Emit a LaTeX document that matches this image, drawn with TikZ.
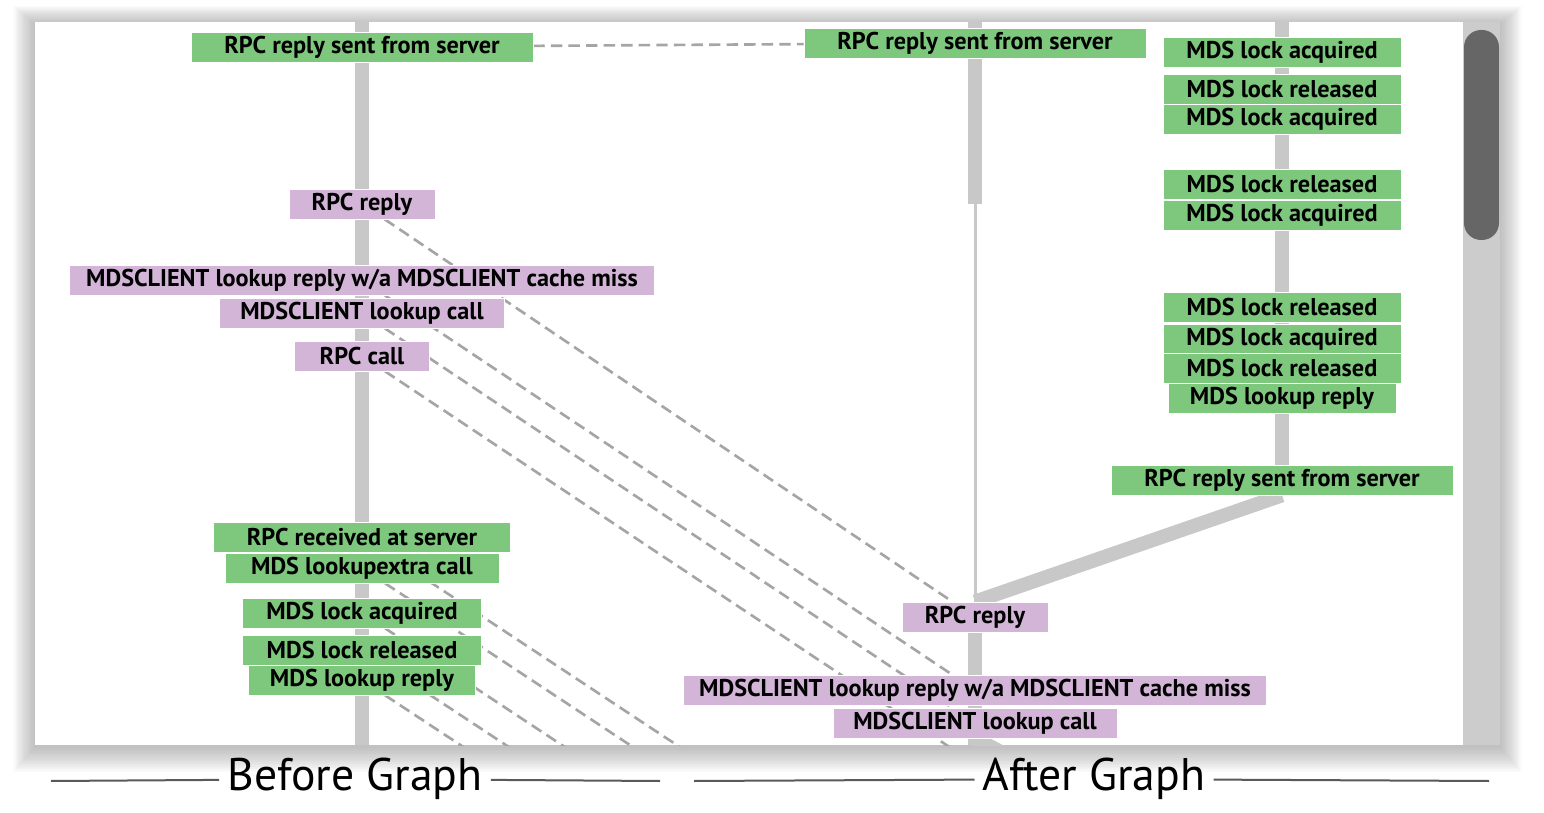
\documentclass[tikz,border=0pt]{standalone}
\usepackage{fontspec}
\setmainfont{PT Sans}
\definecolor{evgreen}{RGB}{126,200,126}
\definecolor{evpurple}{RGB}{211,181,216}
\definecolor{bargray}{RGB}{200,200,200}
\definecolor{dashgray}{RGB}{165,165,165}
\definecolor{trackgray}{RGB}{204,204,204}
\definecolor{thumbgray}{RGB}{102,102,102}
\pgfdeclarelayer{panel}
\pgfdeclarelayer{edges}
\pgfsetlayers{panel,edges,main}

\begin{document}
\begin{tikzpicture}[x=0.02cm, y=-0.02cm]
	\tikzstyle{every node} = [rectangle, align=center, font=\fontsize{13.8}{16}\selectfont\bfseries, draw=white, line width=0.4pt, minimum height=0.6cm, inner ysep=0pt]
	\tikzstyle{srv} = [fill=evgreen]
	\tikzstyle{cli} = [fill=evpurple]
	\tikzstyle{bar} = [bargray, line width=0.28cm]
	\tikzstyle{thinbar} = [bargray, line width=0.06cm]
	\tikzstyle{match} = [dashgray, line width=1.5pt, dash pattern=on 6.5pt off 3.5pt]
	\tikzstyle{caption} = [draw=none, fill=none, font=\fontsize{26}{30}\selectfont, inner xsep=0.16cm]
	\tikzstyle{rule} = [black!65, line width=0.04cm]
	\useasboundingbox (0,0) rectangle (1544,813);

	%Before graph
	\node[srv, minimum width=6.84cm] (b_sent) at (362,47) {RPC reply sent from server};
	\node[cli, minimum width=2.92cm] (b_rpc_reply) at (362,204) {RPC reply};
	\node[cli, minimum width=11.7cm] (b_cache_miss) at (362,280) {MDSCLIENT lookup reply w/a MDSCLIENT cache miss};
	\node[cli, minimum width=5.7cm] (b_lookup_call) at (362,313) {MDSCLIENT lookup call};
	\node[cli, minimum width=2.7cm] (b_rpc_call) at (362,356) {RPC call};
	\node[srv, minimum width=5.94cm] (b_received) at (362,537) {RPC received at server};
	\node[srv, minimum width=5.48cm] (b_lookupextra) at (362,568) {MDS lookupextra call};
	\node[srv, minimum width=4.78cm] (b_lock_acq) at (362,613) {MDS lock acquired};
	\node[srv, minimum width=4.78cm] (b_lock_rel) at (362,650) {MDS lock released};
	\node[srv, minimum width=4.54cm] (b_lookup_reply) at (362,680) {MDS lookup reply};

	%After graph, client side
	\node[srv, minimum width=6.84cm] (a_sent) at (975,43) {RPC reply sent from server};
	\node[cli, minimum width=2.92cm] (a_rpc_reply) at (975,617) {RPC reply};
	\node[cli, minimum width=11.66cm] (a_cache_miss) at (975,690) {MDSCLIENT lookup reply w/a MDSCLIENT cache miss};
	\node[cli, minimum width=5.68cm] (a_lookup_call) at (975,723) {MDSCLIENT lookup call};

	%After graph, server side
	\node[srv, minimum width=4.76cm] (r_acq1) at (1282,52) {MDS lock acquired};
	\node[srv, minimum width=4.76cm] (r_rel1) at (1282,89) {MDS lock released};
	\node[srv, minimum width=4.76cm] (r_acq2) at (1282,119) {MDS lock acquired};
	\node[srv, minimum width=4.76cm] (r_rel2) at (1282,184) {MDS lock released};
	\node[srv, minimum width=4.76cm] (r_acq3) at (1282,215) {MDS lock acquired};
	\node[srv, minimum width=4.76cm] (r_rel3) at (1282,307) {MDS lock released};
	\node[srv, minimum width=4.76cm] (r_acq4) at (1282,339) {MDS lock acquired};
	\node[srv, minimum width=4.76cm] (r_rel4) at (1282,368) {MDS lock released};
	\node[srv, minimum width=4.56cm] (r_lookup_reply) at (1282,398) {MDS lookup reply};
	\node[srv, minimum width=6.84cm] (r_sent) at (1282,480) {RPC reply sent from server};

	%Captions
	\node[caption] (before_lbl) at (355,779) {Before Graph};
	\node[caption] (after_lbl) at (1094,779) {After Graph};
	\coordinate (bl_left) at (51,781);
	\coordinate (bl_right) at (660,781);
	\coordinate (al_left) at (694,781);
	\coordinate (al_right) at (1489,781);
	\draw[rule] (bl_left) -- (before_lbl) (before_lbl) -- (bl_right);
	\draw[rule] (al_left) -- (after_lbl) (after_lbl) -- (al_right);

	%Window with shadow and scrollbar
	\begin{pgfonlayer}{panel}
		\foreach \i in {1,...,18}
			\fill[black, opacity=0.016] (35-1.2*\i,24-1*\i) rectangle (1500+1.2*\i,747+1.4*\i);
		\fill[white] (35,22) rectangle (1500,745);
		\fill[trackgray] (1463,22) rectangle (1500,745);
		\fill[thumbgray, rounded corners=0.34cm] (1464,30) rectangle (1499,240);
	\end{pgfonlayer}

	%Edges, cut at the window
	\coordinate (b_top) at (362,22);
	\coordinate (b_bottom) at (362,745);
	\coordinate (a_top) at (975,22);
	\coordinate (a_split) at (975,204);
	\coordinate (a_bottom) at (975,745);
	\coordinate (a_branch) at (1282,900);
	\coordinate (r_top) at (1282,22);
	\coordinate (a_rpc_call) at (975,764);
	\coordinate (a_received) at (975,942);
	\coordinate (a_lookupextra) at (975,973);
	\coordinate (a_lock_acq) at (975,1018);
	\coordinate (a_lock_rel) at (975,1055);
	\coordinate (a_lookup_reply) at (975,1085);
	\begin{pgfonlayer}{edges}
		\clip (35,22) rectangle (1463,745);
		\draw[bar] (b_top) -- (b_bottom);
		\draw[bar] (a_top) -- (a_sent) -- (a_split);
		\draw[thinbar] (a_split) -- (a_rpc_reply.north);
		\draw[bar] (a_rpc_reply) -- (a_cache_miss) -- (a_lookup_call) -- (a_bottom);
		\draw[bar] (a_lookup_call.south) -- (a_branch);
		\draw[bar] (r_top) -- (r_acq1) -- (r_rel1) -- (r_acq2) -- (r_rel2) -- (r_acq3)
			-- (r_rel3) -- (r_acq4) -- (r_rel4) -- (r_lookup_reply) -- (r_sent);
		\draw[bar] (r_sent.south) -- (a_rpc_reply.north);
		\draw[match]
		(b_sent) -- (a_sent)
		(b_rpc_reply) -- (a_rpc_reply)
		(b_cache_miss) -- (a_cache_miss)
		(b_lookup_call) -- (a_lookup_call)
		(b_rpc_call) -- (a_rpc_call)
		(b_received) -- (a_received)
		(b_lookupextra) -- (a_lookupextra)
		(b_lock_acq) -- (a_lock_acq)
		(b_lock_rel) -- (a_lock_rel)
		(b_lookup_reply) -- (a_lookup_reply)
		;
	\end{pgfonlayer}
\end{tikzpicture}
\end{document}
